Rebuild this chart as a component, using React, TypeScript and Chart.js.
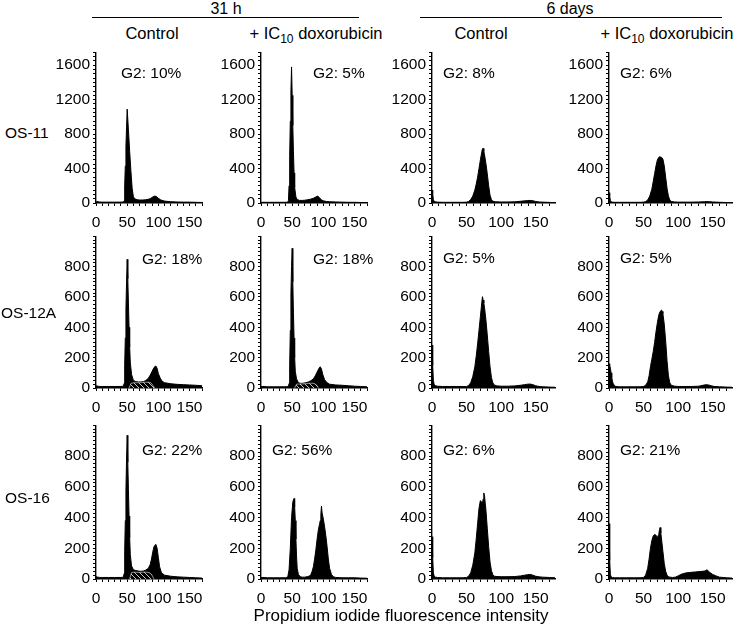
import React, { useEffect, useRef } from 'react';
import { Chart, registerables } from 'chart.js';
Chart.register(...registerables);

const FONT = '"Liberation Sans", Arial, Helvetica, sans-serif';

// ---------------- DATA (PI fluorescence intensity -> cell counts) ----------------
// OS-11, 31 h, control
const os11_ctrl31_x = [0,2,5,10,20,30,40,44,45,46,47,48,49,50,52,54,56,58,60,63,66,70,75,80,85,88,91,94,97,100,104,110,120,130,140,150,160,170];
const os11_ctrl31_y = [10,18,12,10,10,10,10,12,25,200,430,660,880,1090,850,600,370,170,70,45,38,35,35,38,45,55,70,80,75,55,35,22,15,12,10,10,8,6];
// OS-11, 31 h, + IC10 doxorubicin
const os11_dox31_x = [0,5,10,20,30,40,43,44,45,46,47,48,49,50,51,52,53,54,56,58,62,66,70,75,80,84,88,91,94,97,100,105,110,120,130,140,150,160,170];
const os11_dox31_y = [8,8,8,8,8,8,10,30,200,550,950,1300,1580,1250,900,600,350,180,70,40,30,30,32,38,45,55,70,80,60,35,25,18,15,12,10,8,8,6,5];
// OS-11, 6 days, control
const os11_ctrl6d_x = [0,1,2,3,5,8,15,25,35,45,50,53,56,59,62,64,66,68,70,72,73,74,75,76,78,80,82,84,86,88,92,100,110,120,128,134,138,142,146,150,155,160,170,178];
const os11_ctrl6d_y = [150,110,40,20,14,10,8,8,8,8,10,18,40,80,150,220,300,400,500,590,630,634,600,560,460,340,200,90,40,20,14,12,12,14,20,25,28,30,26,18,12,10,7,5];
// OS-11, 6 days, + IC10 doxorubicin
const os11_dox6d_x = [0,1,2,3,5,8,15,25,35,45,50,53,56,59,62,64,66,68,70,72,73,74,76,78,80,82,84,86,88,90,95,100,110,120,130,138,142,146,150,155,160,170,178];
const os11_dox6d_y = [120,80,30,15,10,8,8,8,8,8,10,16,35,80,160,250,340,430,500,530,537,535,530,510,430,300,170,80,35,18,12,10,10,10,12,15,16,15,12,10,8,6,5];

// OS-12A, 31 h, control
const os12_ctrl31_x = [0,3,6,10,20,30,40,44,45,46,47,48,49,50,51,52,53,54,55,57,60,64,68,72,76,80,84,87,90,93,95,96,98,100,103,106,110,120,130,140,150,160,170];
const os12_ctrl31_y = [15,12,10,10,10,10,10,12,30,150,330,520,700,848,720,560,400,270,170,90,50,42,40,40,42,50,65,85,110,135,143,145,130,95,65,45,35,28,24,22,20,18,15];
const os12_ctrl31_sx = [53,56,60,65,70,75,80,85,88,91,94];
const os12_ctrl31_sy = [0,30,34,35,35,36,38,38,34,20,0];
// OS-12A, 31 h, + IC10 doxorubicin
const os12_dox31_x = [0,5,10,20,30,40,44,45,46,47,48,49,50,51,52,53,54,55,57,60,64,68,72,76,80,84,87,90,93,95,97,99,102,106,110,120,130,140,150,160,170];
const os12_dox31_y = [10,10,8,8,8,8,10,30,150,380,620,800,921,700,500,330,200,110,60,35,30,32,35,40,48,60,80,105,130,140,125,90,55,35,25,20,18,15,12,10,8];
const os12_dox31_sx = [54,57,60,65,70,75,80,85,89,92];
const os12_dox31_sy = [0,25,26,26,28,30,32,30,20,0];
// OS-12A, 6 days, control
const os12_ctrl6d_x = [0,1,2,3,5,8,15,25,35,45,50,53,56,59,62,64,66,68,70,72,73,74,75,76,78,80,82,84,86,88,90,94,100,110,120,128,134,138,142,146,150,155,160,170,178];
const os12_ctrl6d_y = [283,150,50,25,15,12,10,10,10,10,10,16,35,75,140,210,290,380,470,560,602,580,560,530,450,350,240,140,70,35,20,14,12,12,14,18,22,25,26,22,15,10,8,6,5];
// OS-12A, 6 days, + IC10 doxorubicin
const os12_dox6d_x = [0,1,2,3,4,5,6,8,10,15,25,35,45,50,53,56,58,60,62,64,66,68,70,72,74,75,76,77,78,80,82,84,86,88,90,95,100,110,120,130,136,140,144,148,152,160,170,178];
const os12_dox6d_y = [160,150,130,100,70,45,30,15,10,8,8,8,8,10,18,40,80,140,190,240,300,370,430,480,505,510,514,505,490,420,310,180,80,35,18,12,10,10,10,12,18,22,20,15,10,8,6,5];

// OS-16, 31 h, control
const os16_ctrl31_x = [0,3,6,10,20,30,40,44,45,46,47,48,49,50,51,52,53,54,55,57,60,64,68,72,76,80,84,87,89,91,93,95,96,98,100,102,105,110,120,130,140,150,160,170];
const os16_ctrl31_y = [15,12,10,10,10,10,10,12,35,180,380,580,780,935,760,580,410,270,160,85,60,55,52,50,52,58,70,95,130,175,210,222,225,200,140,80,40,25,18,14,12,10,8,6];
const os16_ctrl31_sx = [54,57,60,65,70,75,80,85,89,93];
const os16_ctrl31_sy = [0,42,44,44,43,44,45,42,30,0];
// OS-16, 31 h, + IC10 doxorubicin
const os16_dox31_x = [0,5,10,20,30,40,43,45,47,49,51,52,53,54,55,56,57,58,60,63,66,70,74,78,80,82,84,86,88,90,92,94,95,96,97,98,100,102,104,106,108,110,113,116,120,130,140,150,160,170];
const os16_dox31_y = [10,10,8,8,8,8,15,60,200,400,500,515,524,470,380,260,150,70,30,15,12,12,15,20,30,50,80,130,190,260,320,360,380,420,474,430,390,340,280,210,130,70,30,15,10,8,8,8,6,5];
// OS-16, 6 days, control
const os16_ctrl6d_x = [0,1,2,3,5,8,15,25,35,45,50,53,56,59,62,64,66,68,70,72,73,74,75,76,78,80,82,84,86,88,90,94,100,110,120,128,134,138,142,146,150,155,160,170,178];
const os16_ctrl6d_y = [275,140,40,20,12,10,8,8,8,8,10,18,40,90,170,260,360,460,510,500,490,520,560,540,450,330,210,110,55,28,18,16,15,15,16,20,25,28,30,25,18,14,12,10,8];
// OS-16, 6 days, + IC10 doxorubicin
const os16_dox6d_x = [0,1,2,3,5,8,15,25,35,45,50,53,56,58,60,62,64,66,68,70,72,73,74,75,76,78,80,82,84,86,88,92,96,100,104,108,112,116,120,125,130,135,138,140,142,144,146,150,155,160,165,170,178];
const os16_dox6d_y = [360,120,30,15,10,8,8,8,8,8,10,25,70,130,200,250,280,290,285,270,290,320,335,300,260,180,100,50,25,15,12,10,12,20,30,36,40,42,44,46,48,50,52,55,60,50,42,30,20,12,10,8,6];

const G2_LABELS = ['G2: 10%','G2: 5%','G2: 8%','G2: 6%','G2: 18%','G2: 18%','G2: 5%','G2: 5%','G2: 22%','G2: 56%','G2: 6%','G2: 21%'];
const ROW_LABELS = ['OS-11','OS-12A','OS-16'];
const X_TICK_STEP = 10, X_LABEL_EVERY = 50;

// ---------------- LAYOUT ----------------
const W_Y = 46, PT = 12, PR = 4, H_X = 28;
const COLS = [
  { axisX: 96, max: 170, plotW: 109 },
  { axisX: 261, max: 170, plotW: 109 },
  { axisX: 432, max: 178, plotW: 123 },
  { axisX: 609, max: 178, plotW: 123 },
];
const ROWS = [
  { top: 52, bottom: 203, max: 1750, step: 50, every: 400, lastLabel: 1600 },
  { top: 236, bottom: 388, max: 1000, step: 25, every: 200, lastLabel: 800 },
  { top: 425, bottom: 579, max: 1000, step: 25, every: 200, lastLabel: 800 },
];
const G2_POS = [
  [121, 73], [313, 73], [443, 73], [620, 73],
  [142, 259], [313, 259], [443, 258], [620, 258],
  [142, 450], [272, 450], [443, 450], [620, 450],
];

const PANELS = [
  [os11_ctrl31_x, os11_ctrl31_y, null, null],
  [os11_dox31_x, os11_dox31_y, null, null],
  [os11_ctrl6d_x, os11_ctrl6d_y, null, null],
  [os11_dox6d_x, os11_dox6d_y, null, null],
  [os12_ctrl31_x, os12_ctrl31_y, os12_ctrl31_sx, os12_ctrl31_sy],
  [os12_dox31_x, os12_dox31_y, os12_dox31_sx, os12_dox31_sy],
  [os12_ctrl6d_x, os12_ctrl6d_y, null, null],
  [os12_dox6d_x, os12_dox6d_y, null, null],
  [os16_ctrl31_x, os16_ctrl31_y, os16_ctrl31_sx, os16_ctrl31_sy],
  [os16_dox31_x, os16_dox31_y, null, null],
  [os16_ctrl6d_x, os16_ctrl6d_y, null, null],
  [os16_dox6d_x, os16_dox6d_y, null, null],
];

function makeHatch() {
  const c = document.createElement('canvas');
  c.width = 5; c.height = 5;
  const g = c.getContext('2d')!;
  g.fillStyle = '#000'; g.fillRect(0, 0, 5, 5);
  g.strokeStyle = 'rgba(255,255,255,0.85)'; g.lineWidth = 0.9;
  g.beginPath(); g.moveTo(-1, -1); g.lineTo(6, 6); g.stroke();
  return g.createPattern(c, 'repeat');
}

function Panel({ idx }: { idx: number }) {
  const ref = useRef<HTMLCanvasElement>(null);
  const row = Math.floor(idx / 4), col = idx % 4;
  const c = COLS[col], r = ROWS[row];
  const width = W_Y + c.plotW + PR;
  const height = PT + (r.bottom - r.top) + H_X;
  useEffect(() => {
    const [xs, ys, sxs, sys] = PANELS[idx] as any;
    const datasets: any[] = [{
      data: xs.map((x: number, i: number) => ({ x, y: ys[i] })),
      borderColor: '#000', backgroundColor: '#000', borderWidth: 1,
      pointRadius: 0, fill: 'origin', tension: 0, order: 1,
    }];
    if (sxs) {
      datasets.push({
        data: sxs.map((x: number, i: number) => ({ x, y: sys[i] })),
        borderColor: 'rgba(255,255,255,0.8)', backgroundColor: makeHatch(), borderWidth: 0.7,
        pointRadius: 0, fill: 'origin', tension: 0, order: 0,
      });
    }
    const axisCommon = {
      border: { display: true, color: '#000', width: 1.4 },
      grid: { display: true, drawOnChartArea: false, drawTicks: true, tickLength: 3, color: '#000', tickColor: '#000', lineWidth: 1 },
    };
    const chart = new Chart(ref.current!, {
      type: 'line',
      data: { datasets },
      options: {
        animation: false, responsive: false, maintainAspectRatio: false, events: [],
        layout: { padding: { top: PT, right: PR, left: 0, bottom: 0 } },
        plugins: { legend: { display: false }, tooltip: { enabled: false } },
        scales: {
          x: {
            type: 'linear', min: 0, max: c.max,
            afterFit: (s: any) => { s.height = H_X; },
            ...axisCommon,
            ticks: {
              stepSize: X_TICK_STEP, autoSkip: false, includeBounds: false, maxRotation: 0, minRotation: 0,
              padding: 7, color: '#000', font: { family: FONT, size: 15.5 },
              callback: (v: any) => (Number(v) % X_LABEL_EVERY === 0 && Number(v) <= 150 ? String(v) : ''),
            },
          },
          y: {
            type: 'linear', min: 0, max: r.max,
            afterFit: (s: any) => { s.width = W_Y; },
            ...axisCommon,
            ticks: {
              stepSize: r.step, autoSkip: false, includeBounds: false, padding: 3, color: '#000',
              font: { family: FONT, size: 15.5 },
              callback: (v: any) => (Number(v) % r.every === 0 && Number(v) <= r.lastLabel ? String(v) : ''),
            },
          },
        },
      } as any,
    });
    return () => chart.destroy();
  }, [idx]);
  return (
    <canvas ref={ref} width={width} height={height}
      style={{ position: 'absolute', left: c.axisX - W_Y, top: r.top - PT, width, height }} />
  );
}

function Txt({ x, y, size = 15, center = false, children }: any) {
  return (
    <div style={{
      position: 'absolute', left: x, top: y, fontSize: size, lineHeight: 1.15, whiteSpace: 'nowrap',
      transform: center ? 'translate(-50%, -50%)' : 'translateY(-50%)',
    }}>{children}</div>
  );
}

const Dox = () => (
  <span>+ IC<sub style={{ fontSize: 12, verticalAlign: 'baseline', position: 'relative', top: 4 }}>10</sub> doxorubicin</span>
);

export default function App() {
  return (
    <div style={{ position: 'absolute', left: 0, top: 0, width: 736, height: 625, background: '#fff', fontFamily: FONT, color: '#000', overflow: 'hidden' }}>
      <Txt x={226} y={9} size={16} center>31 h</Txt>
      <Txt x={570} y={9} size={16} center>6 days</Txt>
      <div style={{ position: 'absolute', left: 92, top: 17, width: 267, borderTop: '1.3px solid #000' }} />
      <div style={{ position: 'absolute', left: 420, top: 17, width: 302, borderTop: '1.3px solid #000' }} />
      <Txt x={152} y={33} size={16.5} center>Control</Txt>
      <Txt x={316} y={33} size={16.5} center><Dox /></Txt>
      <Txt x={481} y={33} size={16.5} center>Control</Txt>
      <Txt x={667} y={33} size={16.5} center><Dox /></Txt>
      {PANELS.map((_, i) => <Panel key={i} idx={i} />)}
      <Txt x={5} y={133} size={15.5}>{ROW_LABELS[0]}</Txt>
      <Txt x={1} y={313} size={15.5}>{ROW_LABELS[1]}</Txt>
      <Txt x={5} y={498} size={15.5}>{ROW_LABELS[2]}</Txt>
      {G2_LABELS.map((t, i) => <Txt key={i} x={G2_POS[i][0]} y={G2_POS[i][1]} size={15.5}>{t}</Txt>)}
      <Txt x={401} y={616} size={17} center>Propidium iodide fluorescence intensity</Txt>
    </div>
  );
}
